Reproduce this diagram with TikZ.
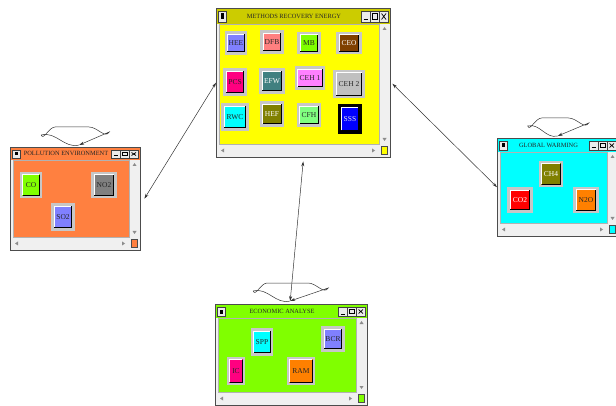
\documentclass[tikz,border=0pt]{standalone}
\usepackage{fontspec}
\setmainfont{Liberation Serif}
\usetikzlibrary{calc, arrows.meta}

\definecolor{mainbody}{HTML}{FFFF00}
\definecolor{maintitle}{HTML}{CCCC00}
\definecolor{pollbody}{HTML}{FF8040}
\definecolor{globbody}{HTML}{00FFFF}
\definecolor{econbody}{HTML}{80FF00}
\definecolor{cviolet}{HTML}{8080FF}
\definecolor{csalmon}{HTML}{FF8080}
\definecolor{clime}{HTML}{80FF00}
\definecolor{cbrown}{HTML}{804000}
\definecolor{cpink}{HTML}{FF0080}
\definecolor{cteal}{HTML}{408080}
\definecolor{cmagenta}{HTML}{FF80FF}
\definecolor{csilver}{HTML}{C0C0C0}
\definecolor{ccyan}{HTML}{00FFFF}
\definecolor{colive}{HTML}{808000}
\definecolor{cmint}{HTML}{80FF80}
\definecolor{cblue}{HTML}{0000FF}
\definecolor{cred}{HTML}{FF0000}
\definecolor{corange}{HTML}{FF8000}
\definecolor{cgray}{HTML}{808080}

\tikzset{
  winframe/.style={inner sep=0pt, fill=black!6},
  titletext/.style={font=\fontsize{6.4}{8}\selectfont, text=black!85, inner sep=0pt},
  ctlbox/.style={fill=black!8, draw=black!75, line width=.5pt},
  scrolltip/.style={fill=black!45, draw=none},
  btn/.style={fill=#1, draw=black!22, line width=2.2pt, inner sep=3pt, outer sep=0pt,
    minimum width=19, minimum height=19, font=\fontsize{7.5}{8}\selectfont, text=black!85},
  sz/.style 2 args={minimum width=#1, minimum height=#2},
  light/.style={text=white},
  blackframe/.style={draw=black, line width=4pt},
  bevelhi/.style={draw=white, line width=1.2pt},
  bevello/.style={draw=black, line width=1.2pt},
  loopline/.style={draw=black!80, line width=.5pt, -{Stealth[length=5pt, width=3pt]}},
  linkline/.style={draw=black!80, line width=.5pt, {Stealth[length=5pt, width=3pt]}-{Stealth[length=5pt, width=3pt]}}
}

% window: name, x1, y1, x2, y2, title height, body colour, title colour, title
\newcommand{\appwindow}[9]{
  \node[winframe, minimum width=#4-#2, minimum height=#5-#3, anchor=north west] (#1) at (#2,#3) {};
  \fill[#8] (#2,#3) rectangle (#4,#3+#6);
  \fill[#7] (#2+3,#3+#6) rectangle (#4-11,#5-13);
  \draw[black!30, line width=.4pt] (#2+3,#3+#6) rectangle (#4-11,#5-13);
  % title bar
  \node[titletext] (#1-title) at ({(#2+#4)/2-9},{#3+#6/2}) {#9};
  \draw[ctlbox] (#2+2,#3+3) rectangle (#2+10,#3+#6-2);
  \fill[black] (#2+4.5,#3+5.5) rectangle (#2+7.5,#3+#6-4.5);
  \foreach \k in {1,2,3}
    \draw[ctlbox] (#4-37.5+9*\k,#3+3) rectangle ++(8.5,#6-5);
  \draw[line width=1pt] (#4-26.5,#3+#6-4) -- ++(4.5,0);
  \draw[line width=.6pt] (#4-17.5,#3+5.5) rectangle ++(4.5,#6-10);
  \draw[line width=.7pt] (#4-8.5,#3+5.5) -- ++(4.5,#6-10) (#4-8.5,#3+#6-4.5) -- ++(4.5,-#6+10);
  % scroll bars
  \draw[scrolltip] (#4-5.5,#3+#6+3) -- ++(-2,3) -- ++(4,0) -- cycle;
  \draw[scrolltip] (#4-5.5,#5-16) -- ++(-2,-3) -- ++(4,0) -- cycle;
  \draw[scrolltip] (#2+5,#5-6.5) -- ++(3,-2) -- ++(0,4) -- cycle;
  \draw[scrolltip] (#4-15,#5-6.5) -- ++(-3,-2) -- ++(0,4) -- cycle;
  \draw[fill=#7, draw=black!70, line width=.4pt] (#4-8.5,#5-11) rectangle (#4-2.5,#5-3);
  \draw[black!70, line width=.6pt] (#1.north west) rectangle (#1.south east);
}

% self loop above a window: tip, left reach, right reach
\newcommand{\selfloop}[3]{
  \draw[loopline] (#1) to[out=195, in=15] ++(-#2,-10) to[out=290, in=180] ++(14,-8)
    -- ++(#2+#3-34,0) to[out=0, in=240] ++(20,5) -- (#1);
}

\begin{document}
\begin{tikzpicture}[x=1pt, y=-1pt]
  \useasboundingbox (0,0) rectangle (616,406);

  % Windows
  \appwindow{main}{216}{8}{390}{157}{16}{mainbody}{maintitle}{METHODS RECOVERY ENERGY}
  \appwindow{poll}{10}{147}{140}{250}{13}{pollbody}{pollbody}{POLLUTION ENVIRONMENT}
  \appwindow{glob}{497}{138}{618}{236}{14}{globbody}{globbody}{GLOBAL WARMING}
  \appwindow{econ}{215}{304}{367}{405}{14}{econbody}{econbody}{ECONOMIC ANALYSE}

  % Methods recovery energy
  \node[btn=cviolet, sz={20}{21}] (hee) at (236,43) {HEE};
  \node[btn=csalmon, sz={21}{21}] (dfb) at (272,42) {DFB};
  \node[btn=clime, sz={21}{20}] (mb) at (309,43) {MB};
  \node[btn=cbrown, sz={23}{20}, light] (ceo) at (349,43) {CEO};
  \node[btn=cpink, sz={21}{25}] (pcs) at (235,82) {PCS};
  \node[btn=cteal, sz={23}{23}, light] (efw) at (272,81) {EFW};
  \node[btn=cmagenta, sz={28}{21}] (ceh1) at (310,78) {CEH 1};
  \node[btn=csilver, sz={29}{26}] (ceh2) at (349,84) {CEH 2};
  \node[btn=ccyan, sz={25}{25}] (rwc) at (235,117) {RWC};
  \node[btn=colive, sz={22}{23}, light] (hef) at (272,114) {HEF};
  \node[btn=cmint, sz={22}{21}] (cfh) at (309,115) {CFH};
  \node[btn=cblue, blackframe, sz={20}{26}, text=black!8] (sss) at (350,119) {SSS};

  % Pollution environment
  \node[btn=clime, sz={20}{24}] (co) at (31,185) {CO};
  \node[btn=cgray, sz={23}{24}] (no2) at (104,185) {NO2};
  \node[btn=cviolet, sz={21}{25}] (so2) at (63,217) {SO2};

  % Global warming
  \node[btn=colive, sz={22}{24}, light] (ch4) at (551,174) {CH4};
  \node[btn=cred, sz={23}{23}, light] (co2) at (520,200) {CO2};
  \node[btn=corange, sz={23}{24}] (n2o) at (586,200) {N2O};

  % Economic analyse
  \node[btn=ccyan, sz={20}{25}] (spp) at (262,342) {SPP};
  \node[btn=cviolet, sz={21}{23}] (bcr) at (333,339) {BCR};
  \node[btn=cpink, sz={16}{26}] (ic) at (236,371) {IC};
  \node[btn=corange, sz={26}{26}] (ram) at (301,371) {RAM};

  % bevel of the buttons
  \foreach \b in {hee,dfb,mb,ceo,pcs,efw,ceh1,ceh2,rwc,hef,cfh,sss,co,no2,so2,ch4,co2,n2o,spp,bcr,ic,ram} {
    \draw[bevelhi] ($(\b.south west)+(1.7,-1.7)$) -- ($(\b.north west)+(1.7,1.7)$) -- ($(\b.north east)+(-1.7,1.7)$);
    \draw[bevello] ($(\b.south west)+(1.7,-1.7)$) -- ($(\b.south east)+(-1.7,-1.7)$) -- ($(\b.north east)+(-1.7,1.7)$);
  }

  % Loops
  \coordinate (poll-t) at ($(poll.north)+(4,-2)$);
  \coordinate (glob-t) at ($(glob.north)+(0,-2)$);
  \coordinate (econ-t) at ($(econ.north)+(-1,-3)$);
  \selfloop{poll-t}{38}{30}
  \selfloop{glob-t}{30}{31}
  \selfloop{econ-t}{37}{38}

  % Links
  \draw[linkline] (main.west) -- ($(poll.east)+(4,0)$);
  \draw[linkline] ($(main.east)+(2,1)$) -- (glob.west);
  \draw[linkline] ($(main.south)+(0,4)$) -- (econ-t);
\end{tikzpicture}
\end{document}
